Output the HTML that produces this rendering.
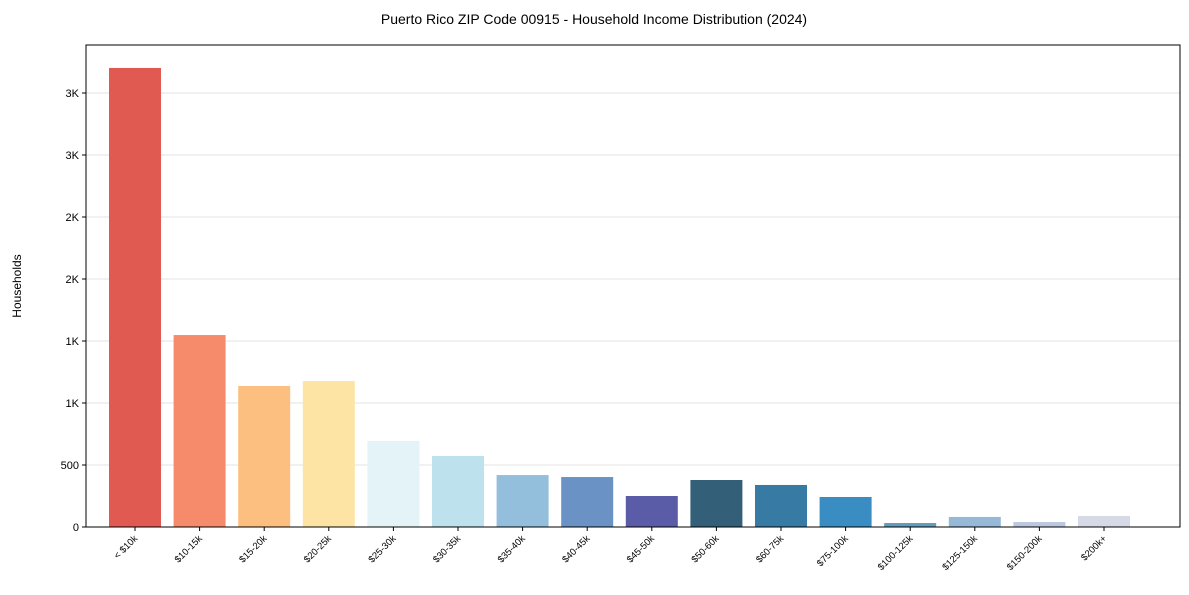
<!DOCTYPE html>
<html><head><meta charset="utf-8"><style>
body{margin:0;background:#fff;font-family:"Liberation Sans",sans-serif;}
svg text{font-family:"Liberation Sans",sans-serif;}
</style></head><body>
<svg id="chart" width="1189" height="590">
<text x="594" y="24" text-anchor="middle" font-size="14">Puerto Rico ZIP Code 00915 - Household Income Distribution (2024)</text>
<text transform="translate(21,286) rotate(-90)" text-anchor="middle" font-size="12">Households</text>
<g id="grid"></g><g id="bars"></g><g id="axes"></g>
</svg>
<script>
const categories=["< $10k","$10-15k","$15-20k","$20-25k","$25-30k","$30-35k","$35-40k","$40-45k","$45-50k","$50-60k","$60-75k","$75-100k","$100-125k","$125-150k","$150-200k","$200k+"];
const values=[3702,1548,1137,1177,694,573,419,403,250,379,339,242,32,81,40,89];
const colors=["#e05a52","#f58b6b","#fdbf80","#fee4a4","#e3f3f7","#bde1ed","#93bfdc","#6a92c4","#5b5ca8","#345f78","#377ba5","#3a8dc2","#5f9cbd","#96b9d8","#bcc8df","#d6d9e6"];
const yTicks=[0,500,1000,1500,2000,2500,3000,3500];
const yTickLabels=["0","500","1K","1K","2K","2K","3K","3K"];
const NS="http://www.w3.org/2000/svg";
const L=86,R=1180,T=45,B=527;
const y=v=>B-v*(62/500);
const x=i=>135+i*64.6;
const bw=52;
function mk(tag,attrs,parent){const e=document.createElementNS(NS,tag);for(const k in attrs)e.setAttribute(k,attrs[k]);document.getElementById(parent).appendChild(e);return e;}
yTicks.forEach((t,i)=>{
  if(t>0){const g=mk("line",{x1:L,x2:R,y1:y(t),y2:y(t),stroke:"#e3e3e3","stroke-width":1},"grid");
  
  }
  const tk=mk("line",{x1:L-4,x2:L,y1:y(t),y2:y(t),stroke:"#000"},"axes");
  
  
  const tx=mk("text",{x:L-7,y:y(t)+4,"text-anchor":"end","font-size":"11"},"axes");
  tx.textContent=yTickLabels[i];
  
  
});
values.forEach((v,i)=>{
  const r=mk("rect",{x:x(i)-bw/2,y:y(v),width:bw,height:B-y(v),fill:colors[i]},"bars");
  
  
  const tk=mk("line",{x1:x(i),x2:x(i),y1:B,y2:B+4,stroke:"#000"},"axes");
  
  
  const tx=mk("text",{transform:`translate(${x(i)+3},${B+12}) rotate(-45)`,"text-anchor":"end","font-size":"9.5"},"axes");
  tx.textContent=categories[i];
  
  
});
const fr=mk("rect",{x:L,y:T,width:R-L,height:B-T,fill:"none",stroke:"#000","stroke-width":1},"axes");


</script>
</body></html>
